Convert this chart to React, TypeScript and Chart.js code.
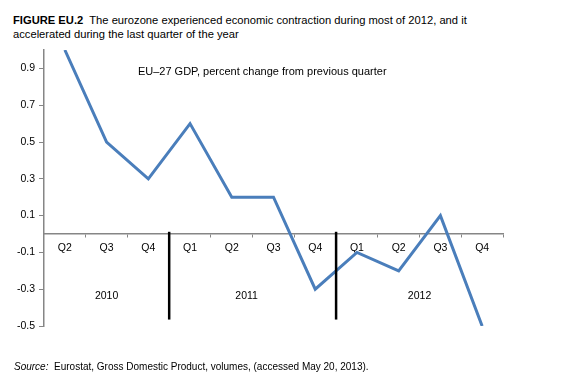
import React, { useEffect, useRef } from "react";
import { Chart, registerables } from "chart.js";

Chart.register(...registerables);

const quarters = ["Q2", "Q3", "Q4", "Q1", "Q2", "Q3", "Q4", "Q1", "Q2", "Q3", "Q4"];
const gdpChange = [1.0, 0.5, 0.3, 0.6, 0.2, 0.2, -0.3, -0.1, -0.2, 0.1, -0.5];
const years = ["2010", "2011", "2012"];
const yearFirstIndex = [0, 3, 7];
const yearLastIndex = [2, 6, 10];
const yTicks = [-0.5, -0.3, -0.1, 0.1, 0.3, 0.5, 0.7, 0.9];
const yMin = -0.5;
const yMax = 1.0;
const seriesLabel = "EU\u201327 GDP, percent change from previous quarter";

const FONT = "'Liberation Sans', Arial, sans-serif";

const overlayPlugin = {
  id: "overlay",
  afterDatasetsDraw(chart: any) {
    const ctx = chart.ctx;
    const xs = chart.scales.x;
    const ys = chart.scales.y;
    ctx.save();
    // year separators
    ctx.strokeStyle = "#000000";
    ctx.lineWidth = 2.5;
    for (let i = 1; i < yearFirstIndex.length; i++) {
      const x = xs.getPixelForValue(yearFirstIndex[i] - 0.5);
      ctx.beginPath();
      ctx.moveTo(x, ys.getPixelForValue(0.012));
      ctx.lineTo(x, ys.getPixelForValue(-0.465));
      ctx.stroke();
    }
    // year labels
    ctx.fillStyle = "#000000";
    ctx.font = `10.5px ${FONT}`;
    ctx.textAlign = "center";
    ctx.textBaseline = "middle";
    years.forEach((y, i) => {
      const c = (yearFirstIndex[i] + yearLastIndex[i]) / 2;
      ctx.fillText(y, xs.getPixelForValue(c) - (i === 1 ? 6 : 0), ys.getPixelForValue(-0.34));
    });
    // series label
    ctx.font = `11px ${FONT}`;
    ctx.textAlign = "left";
    ctx.fillText(seriesLabel, xs.getPixelForValue(1.75), ys.getPixelForValue(0.878));
    ctx.restore();
  },
};

export default function App() {
  const ref = useRef<HTMLCanvasElement | null>(null);

  useEffect(() => {
    if (!ref.current) return;
    const chart = new Chart(ref.current, {
      type: "line",
      data: {
        labels: quarters,
        datasets: [
          {
            label: seriesLabel,
            data: gdpChange,
            borderColor: "#4A7EBB",
            borderWidth: 3,
            pointRadius: 0,
            tension: 0,
            fill: false,
          },
        ],
      },
      options: {
        responsive: false,
        animation: false,
        devicePixelRatio: 1,
        layout: { padding: { left: 0, top: 50, right: 59, bottom: 60 } },
        plugins: { legend: { display: false }, tooltip: { enabled: false } },
        scales: {
          x: {
            type: "category",
            position: { y: 0 },
            offset: true,
            grid: {
              display: true,
              drawOnChartArea: false,
              offset: true,
              color: "#868686",
              tickLength: 3,
              lineWidth: 1,
            },
            border: { display: true, color: "#868686", width: 1.5 },
            ticks: {
              color: "#000000",
              font: { family: FONT, size: 10.5 },
              padding: 5,
              maxRotation: 0,
              autoSkip: false,
            },
            afterFit: (s: any) => {
              s.height = 0;
            },
          },
          y: {
            min: yMin,
            max: yMax,
            afterBuildTicks: (s: any) => {
              s.ticks = yTicks.map((v) => ({ value: v }));
            },
            grid: {
              drawOnChartArea: false,
              color: "#868686",
              tickLength: 5,
            },
            border: { display: true, color: "#868686", width: 1.5 },
            ticks: {
              color: "#000000",
              font: { family: FONT, size: 10.5 },
              padding: 4,
              callback: (v: any) => Number(v).toFixed(1),
            },
            afterFit: (s: any) => {
              s.width = 44;
            },
          },
        },
      },
      plugins: [overlayPlugin],
    });
    return () => chart.destroy();
  }, []);

  return (
    <div
      style={{
        position: "absolute",
        left: 0,
        top: 0,
        width: 562,
        height: 386,
        background: "#ffffff",
        fontFamily: FONT,
        color: "#000000",
        overflow: "hidden",
      }}
    >
      <div
        style={{
          position: "absolute",
          left: 13,
          top: 13,
          width: 545,
          fontSize: 11.2,
          lineHeight: "14px",
          whiteSpace: "pre-wrap",
        }}
      >
        <b>FIGURE EU.2</b>
        {"  The eurozone experienced economic contraction during most of 2012, and it\naccelerated during the last quarter of the year"}
      </div>
      <canvas
        ref={ref}
        width={562}
        height={386}
        style={{ position: "absolute", left: 0, top: 0, width: 562, height: 386 }}
      />
      <div
        style={{
          position: "absolute",
          left: 14,
          top: 360,
          fontSize: 10,
          lineHeight: "14px",
          whiteSpace: "pre",
        }}
      >
        <i>Source:</i>
        {"  Eurostat, Gross Domestic Product, volumes, (accessed May 20, 2013)."}
      </div>
    </div>
  );
}
